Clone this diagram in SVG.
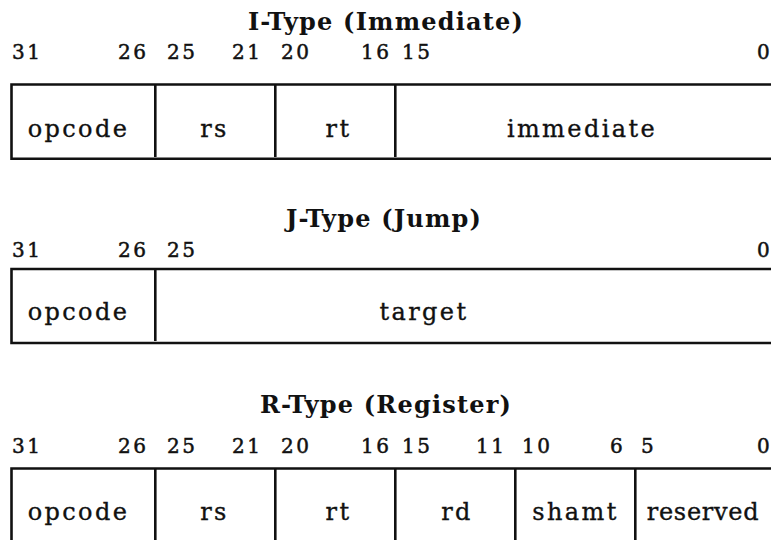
<svg xmlns="http://www.w3.org/2000/svg" width="771" height="540" viewBox="0 0 771 540">
<style>
.bg{fill:#fff}
.title{font-family:"DejaVu Serif","Liberation Serif",serif;font-weight:bold;font-size:24px;letter-spacing:1.2px;text-anchor:middle;fill:#111}
.bit{font-family:"DejaVu Serif","Liberation Serif",serif;font-size:20px;letter-spacing:2.5px;fill:#111;stroke:#111;stroke-width:0.5px}
.lbl{font-family:"DejaVu Serif","Liberation Serif",serif;font-size:24px;letter-spacing:2.4px;text-anchor:middle;fill:#111;stroke:#111;stroke-width:0.35px}
.tight{letter-spacing:0.7px}
.ln{stroke:#111;stroke-width:2.6;fill:none}
</style>
<rect class="bg" x="0" y="0" width="771" height="540"/>

<g id="i-type">
  <text class="title" x="386" y="29.5">I-Type (Immediate)</text>
  <g id="i-bits">
    <text class="bit" x="12" y="59">31</text>
    <text class="bit" x="118" y="59">26</text>
    <text class="bit" x="167" y="59">25</text>
    <text class="bit" x="232" y="59">21</text>
    <text class="bit" x="281" y="59">20</text>
    <text class="bit" x="361" y="59">16</text>
    <text class="bit" x="402" y="59">15</text>
    <text class="bit" x="757" y="59">0</text>
  </g>
  <g id="i-frame"><path class="ln" d="M780 84.5H11.5V158.8H780"/></g>
  <g id="i-opcode"><text class="lbl" x="78.5" y="137">opcode</text></g>
  <g id="i-rs"><line class="ln" x1="155.3" y1="84.5" x2="155.3" y2="157"/><text class="lbl" x="214.5" y="137">rs</text></g>
  <g id="i-rt"><line class="ln" x1="275.3" y1="84.5" x2="275.3" y2="157"/><text class="lbl" x="338.5" y="137">rt</text></g>
  <g id="i-immediate"><line class="ln" x1="395.3" y1="84.5" x2="395.3" y2="157"/><text class="lbl" x="582" y="137">immediate</text></g>
</g>

<g id="j-type">
  <text class="title" x="384" y="227">J-Type (Jump)</text>
  <g id="j-bits">
    <text class="bit" x="12" y="256.5">31</text>
    <text class="bit" x="118" y="256.5">26</text>
    <text class="bit" x="167" y="256.5">25</text>
    <text class="bit" x="757" y="256.5">0</text>
  </g>
  <g id="j-frame"><path class="ln" d="M780 269H11.5V343H780"/></g>
  <g id="j-opcode"><text class="lbl" x="78.5" y="320">opcode</text></g>
  <g id="j-target"><line class="ln" x1="155.3" y1="269" x2="155.3" y2="341"/><text class="lbl" x="424" y="320">target</text></g>
</g>

<g id="r-type">
  <text class="title" x="386" y="413">R-Type (Register)</text>
  <g id="r-bits">
    <text class="bit" x="12" y="453">31</text>
    <text class="bit" x="118" y="453">26</text>
    <text class="bit" x="167" y="453">25</text>
    <text class="bit" x="232" y="453">21</text>
    <text class="bit" x="281" y="453">20</text>
    <text class="bit" x="361" y="453">16</text>
    <text class="bit" x="402" y="453">15</text>
    <text class="bit" x="476" y="453">11</text>
    <text class="bit" x="522" y="453">10</text>
    <text class="bit" x="610" y="453">6</text>
    <text class="bit" x="641" y="453">5</text>
    <text class="bit" x="757" y="453">0</text>
  </g>
  <g id="r-frame"><path class="ln" d="M11.5 545V468.5H780"/></g>
  <g id="r-opcode"><text class="lbl" x="78.5" y="520">opcode</text></g>
  <g id="r-rs"><line class="ln" x1="155.3" y1="468.5" x2="155.3" y2="545"/><text class="lbl" x="214.5" y="520">rs</text></g>
  <g id="r-rt"><line class="ln" x1="275.3" y1="468.5" x2="275.3" y2="545"/><text class="lbl" x="338.5" y="520">rt</text></g>
  <g id="r-rd"><line class="ln" x1="395.3" y1="468.5" x2="395.3" y2="545"/><text class="lbl" x="457" y="520">rd</text></g>
  <g id="r-shamt"><line class="ln" x1="515.3" y1="468.5" x2="515.3" y2="545"/><text class="lbl" x="575.5" y="520">shamt</text></g>
  <g id="r-reserved"><line class="ln" x1="635.3" y1="468.5" x2="635.3" y2="545"/><text class="lbl tight" x="703" y="520">reserved</text></g>
</g>
</svg>
